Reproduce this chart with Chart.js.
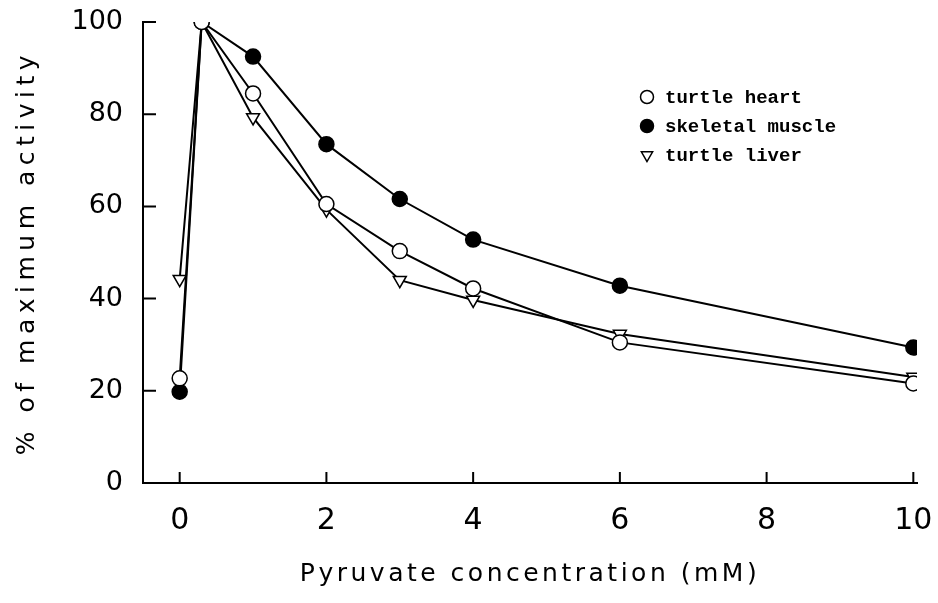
<!DOCTYPE html>
<html lang="en">
  <head>
    <meta charset="UTF-8" />
    <title>Pyruvate concentration</title>
    <style>
      html, body { margin: 0; padding: 0; background: #fff; overflow: hidden; }
    </style>
  </head>
  <body>
    <canvas id="chart" width="938" height="603"></canvas>

    <script src="https://cdn.jsdelivr.net/npm/chart.js"></script>
    <script>
      // pyruvate concentration (mM)
      const concentration = [0, 0.3, 1, 2, 3, 4, 6, 10];
      // % of maximum activity
      const turtleHeart = [22.7, 100, 84.5, 60.5, 50.3, 42.2, 30.5, 21.6];
      const skeletalMuscle = [19.8, 100, 92.5, 73.5, 61.6, 52.8, 42.8, 29.4];
      const turtleLiver = [44.2, 100, 79.3, 59.3, 44.0, 39.7, 32.3, 23.0];
      const seriesLabels = ["turtle heart", "skeletal muscle", "turtle liver"];
      const xTicks = [0, 2, 4, 6, 8, 10];
      const yTicks = [0, 20, 40, 60, 80, 100];

      const fontFamily = "'DejaVu Sans', sans-serif";
      // the original lettering is wide and loosely spaced
      const titleSpacing = { x: "3.5px", y: "5.5px" };

      function points(ys) {
        return concentration.map((x, i) => ({ x: x, y: ys[i] }));
      }

      // ticks that point into the plot, like the original figure
      const innerTicks = {
        id: "innerTicks",
        afterDraw(chart) {
          const ctx = chart.ctx;
          const area = chart.chartArea;
          const xs = chart.scales.x;
          const ys = chart.scales.y;
          ctx.save();
          ctx.strokeStyle = "#000";
          ctx.lineWidth = 2;
          ctx.beginPath();
          xTicks.forEach((v) => {
            const px = xs.getPixelForValue(v);
            ctx.moveTo(px, area.bottom);
            ctx.lineTo(px, area.bottom - 11);
          });
          yTicks.forEach((v) => {
            const py = ys.getPixelForValue(v);
            ctx.moveTo(area.left, py);
            ctx.lineTo(area.left + 13, py);
          });
          ctx.stroke();
          ctx.restore();
        },
      };

      // widen the axis titles with canvas letter spacing
      const spacedTitles = {
        id: "spacedTitles",
        afterLayout(chart) {
          ["x", "y"].forEach((id) => {
            const scale = chart.scales[id];
            if (!scale || scale._spaced) return;
            const orig = scale.drawTitle.bind(scale);
            scale.drawTitle = function () {
              const ctx = this.ctx;
              const prev = ctx.letterSpacing;
              ctx.letterSpacing = titleSpacing[id];
              orig();
              ctx.letterSpacing = prev || "0px";
            };
            scale._spaced = true;
          });
        },
      };

      // legend drawn inside the plot, top right
      const innerLegend = {
        id: "innerLegend",
        afterDraw(chart) {
          const ctx = chart.ctx;
          ctx.save();
          chart.data.datasets.forEach((ds, i) => {
            const x = 647;
            const y = 97 + i * 29;
            ctx.fillStyle = ds.pointBackgroundColor;
            ctx.strokeStyle = "#000";
            ctx.lineWidth = 1.5;
            Chart.helpers.drawPoint(
              ctx,
              {
                pointStyle: ds.pointStyle,
                radius: 6.5,
                rotation: ds.pointRotation || 0,
                borderWidth: 1.5,
              },
              x,
              y
            );
            ctx.font = "bold 19px 'Liberation Mono', monospace";
            ctx.textBaseline = "middle";
            ctx.fillStyle = "#000";
            ctx.fillText(ds.label, 665, y + 1);
          });
          ctx.restore();
        },
      };

      function dataset(label, ys, style, fill, rotation) {
        return {
          label: label,
          data: points(ys),
          borderColor: "#000",
          borderWidth: 2,
          backgroundColor: fill,
          pointStyle: style,
          pointRotation: rotation,
          pointRadius: 7.5,
          pointHoverRadius: 7.5,
          pointBorderWidth: 1.5,
          pointBorderColor: "#000",
          pointBackgroundColor: fill,
          tension: 0,
          fill: false,
        };
      }

      const chart = new Chart(document.getElementById("chart"), {
        type: "line",
        data: {
          datasets: [
            dataset(seriesLabels[0], turtleHeart, "circle", "#fff", 0),
            dataset(seriesLabels[1], skeletalMuscle, "circle", "#000", 0),
            dataset(seriesLabels[2], turtleLiver, "triangle", "#fff", 180),
          ],
        },
        options: {
          responsive: false,
          animation: false,
          devicePixelRatio: 1,
          layout: { padding: { top: 22, right: 21, left: 0, bottom: 0 } },
          plugins: {
            legend: { display: false },
            tooltip: { enabled: false },
          },
          scales: {
            x: {
              type: "linear",
              min: -0.5,
              max: 10.05,
              afterBuildTicks(axis) {
                axis.ticks = xTicks.map((v) => ({ value: v }));
              },
              afterFit(axis) {
                axis.height = 120;
                axis.paddingLeft = 0;
                axis.paddingRight = 0;
              },
              grid: { display: false, drawTicks: false },
              border: { display: true, color: "#000", width: 2 },
              ticks: {
                color: "#000",
                font: { family: fontFamily, size: 30 },
                padding: 20,
                maxRotation: 0,
              },
              title: {
                display: true,
                text: "Pyruvate concentration (mM)",
                color: "#000",
                font: { family: fontFamily, size: 25 },
                padding: { top: 4, bottom: 14 },
              },
            },
            y: {
              min: 0,
              max: 100,
              afterBuildTicks(axis) {
                axis.ticks = yTicks.map((v) => ({ value: v }));
              },
              afterFit(axis) {
                axis.width = 143;
                axis.paddingTop = 0;
                axis.paddingBottom = 0;
              },
              grid: { display: false, drawTicks: false },
              border: { display: true, color: "#000", width: 2 },
              ticks: {
                color: "#000",
                font: { family: fontFamily, size: 27 },
                padding: 20,
              },
              title: {
                display: true,
                text: "% of maximum activity",
                color: "#000",
                font: { family: fontFamily, size: 25 },
                padding: { top: 12, bottom: 4 },
              },
            },
          },
        },
        plugins: [spacedTitles, innerTicks, innerLegend],
      });
    </script>
  </body>
</html>
